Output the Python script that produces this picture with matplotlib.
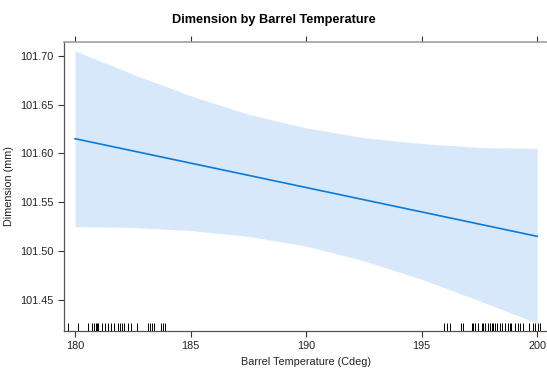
import matplotlib as mpl

mpl.use("Agg")

import matplotlib.pyplot as plt
import numpy as np

# fitted line and confidence band
temp = [180, 182.5, 185, 187.5, 190, 192.5, 195, 197.5, 200]
fit = [101.615, 101.6025, 101.590, 101.5775, 101.565, 101.5525, 101.540, 101.5275, 101.515]
upper = [101.705, 101.681, 101.659, 101.640, 101.626, 101.616, 101.610, 101.606, 101.605]
lower = [101.525, 101.524, 101.521, 101.515, 101.505, 101.490, 101.471, 101.449, 101.426]

# rug of observed barrel temperatures
rug_temps = [
    179.69, 180.14, 180.55, 180.72, 180.83, 180.89, 180.95, 181.00, 181.15, 181.29,
    181.44, 181.55, 181.69, 181.87, 181.94, 182.01, 182.13, 182.30, 182.44, 182.66,
    183.16, 183.23, 183.33, 183.42, 183.74, 183.81, 183.88,
    195.99, 196.08, 196.24, 196.71, 196.80, 197.17, 197.24, 197.31, 197.43, 197.60,
    197.67, 197.75, 197.86, 197.96, 198.03, 198.10, 198.18, 198.25, 198.39, 198.46,
    198.61, 198.75, 198.82, 198.89, 199.04, 199.18, 199.25, 199.40, 199.64, 199.83,
    199.91, 200.04, 200.12,
]

x_ticks = [180, 185, 190, 195, 200]
y_ticks = [101.45, 101.50, 101.55, 101.60, 101.65, 101.70]

plt.rcParams["font.family"] = ["Liberation Sans", "DejaVu Sans"]

fig = plt.figure(figsize=(5.47, 3.69), dpi=100)
# right edge runs just past the figure, as in the reference (no right frame visible)
ax = fig.add_axes([0.117, 0.103, 0.886, 0.783])

ax.fill_between(temp, lower, upper, color="#d7e8fb", linewidth=0, zorder=1)
ax.plot(temp, fit, color="#0a7ad6", linewidth=1.2, zorder=2)
ax.vlines(rug_temps, 0, 0.026, transform=ax.get_xaxis_transform(),
          color="black", linewidth=0.7, zorder=3)

ax.set_xlim(179.52, 200.50)
ax.set_ylim(101.418, 101.714)
ax.set_xticks(x_ticks)
ax.set_xticklabels([str(t) for t in x_ticks])
ax.set_yticks(y_ticks)
ax.set_yticklabels([f"{t:.2f}" for t in y_ticks])

ax.tick_params(axis="both", direction="out", length=4.5, width=0.8, color="#333333",
               labelsize=7.8, labelcolor="#222222", pad=3)
ax.tick_params(top=True)
ax.spines["top"].set_color("#a0a0a0")
ax.spines["top"].set_linewidth(1.2)
ax.spines["right"].set_visible(False)
for side in ("left", "bottom"):
    ax.spines[side].set_color("#555555")
    ax.spines[side].set_linewidth(0.9)

ax.set_xlabel("Barrel Temperature (Cdeg)", fontsize=7.8, color="#222222", labelpad=4)
ax.set_ylabel("Dimension (mm)", fontsize=7.8, color="#222222")
ax.yaxis.set_label_coords(-0.104, 0.5)
fig.suptitle("Dimension by Barrel Temperature", fontsize=9.2, fontweight="bold", y=0.963)

fig.savefig("out.png", dpi=100, facecolor="white")
plt.close(fig)
